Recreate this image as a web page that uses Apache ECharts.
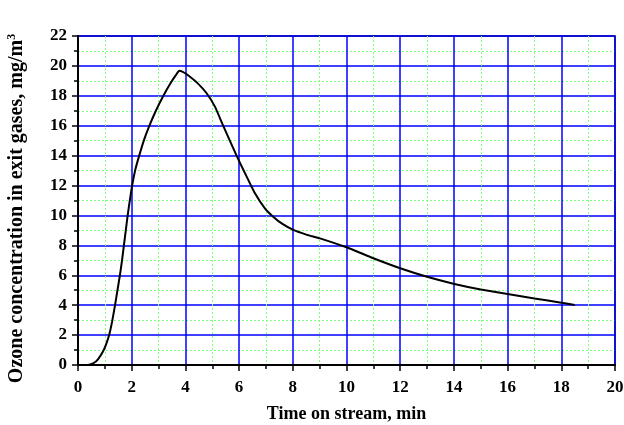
<!DOCTYPE html>
<html>
<head>
<meta charset="utf-8">
<script src="https://cdn.jsdelivr.net/npm/echarts@6/dist/echarts.min.js"></script>
<style>html,body{margin:0;padding:0;background:#fff}#c{width:624px;height:425px}</style>
</head>
<body>
<div id="c"></div>
<script>
const timeMin = [0, 0.3, 0.45, 0.6, 0.75, 0.93, 1.05, 1.16, 1.27, 1.38, 1.47, 1.56, 1.64, 1.71, 1.78, 1.85, 1.93, 2.02, 2.14, 2.28, 2.46, 2.66, 2.9, 3.18, 3.45, 3.65, 3.77, 3.9, 4.05, 4.45, 4.79, 5.10, 5.41, 5.91, 6.22, 6.59, 6.96, 7.27, 7.6, 8.02, 8.5, 9.01, 10.0, 11.0, 12.0, 13.0, 14.02, 15.0, 16.0, 17.0, 18.0, 18.5];
const ozone = [0, 0, 0.04, 0.15, 0.4, 0.9, 1.4, 2, 2.9, 4, 5, 6, 7, 8, 9, 10, 11, 12.04, 13.1, 14, 15.05, 16, 17, 18, 18.85, 19.4, 19.67, 19.6, 19.44, 18.85, 18.17, 17.28, 15.99, 13.98, 12.82, 11.48, 10.48, 9.92, 9.45, 9.03, 8.72, 8.47, 7.87, 7.14, 6.47, 5.9, 5.42, 5.05, 4.75, 4.45, 4.17, 4.01];
const xTicks = {min: 0, max: 20, interval: 2};
const yTicks = {min: 0, max: 22, interval: 2};
const xTitle = 'Time on stream, min';
const yTitle = 'Ozone concentration in exit gases, mg/m{sup|3}';

const font = '"Liberation Serif", "Times New Roman", serif';
const chart = echarts.init(document.getElementById('c'), null, {renderer: 'canvas'});
chart.setOption({
  animation: false,
  grid: {left: 78, right: 9, top: 36, bottom: 60, containLabel: false, outerBoundsMode: 'none', show: true, borderColor: '#000', borderWidth: 1.5, backgroundColor: 'transparent'},
  xAxis: {
    type: 'value', min: xTicks.min, max: xTicks.max, interval: xTicks.interval,
    name: xTitle, nameLocation: 'middle', nameGap: 40,
    nameTextStyle: {fontFamily: font, fontWeight: 'bold', fontSize: 18, color: '#000'},
    axisLine: {lineStyle: {color: '#000', width: 2}},
    axisTick: {show: true, inside: false, length: 6, lineStyle: {color: '#000', width: 1.5}},
    minorTick: {show: true, splitNumber: 2, length: 4, lineStyle: {color: '#000', width: 1.5}},
    axisLabel: {fontFamily: font, fontWeight: 'bold', fontSize: 17, color: '#000', margin: 14},
    splitLine: {show: true, lineStyle: {color: '#0000ff', width: 1.5}},
    minorSplitLine: {show: true, lineStyle: {color: '#7dff7d', width: 1, type: [2, 2]}}
  },
  yAxis: {
    type: 'value', min: yTicks.min, max: yTicks.max, interval: yTicks.interval,
    name: yTitle, nameLocation: 'middle', nameGap: 50, nameRotate: 90,
    nameTextStyle: {fontFamily: font, fontWeight: 'bold', fontSize: 20, color: '#000', padding: [0, 16, 0, 0],
      rich: {sup: {fontFamily: font, fontWeight: 'bold', fontSize: 12, color: '#000', verticalAlign: 'top', padding: [0, 0, 10, 0]}}},
    axisLine: {lineStyle: {color: '#000', width: 2}},
    axisTick: {show: true, inside: false, length: 6, lineStyle: {color: '#000', width: 1.5}},
    minorTick: {show: true, splitNumber: 2, length: 4, lineStyle: {color: '#000', width: 1.5}},
    axisLabel: {fontFamily: font, fontWeight: 'bold', fontSize: 17, color: '#000', margin: 11},
    splitLine: {show: true, lineStyle: {color: '#0000ff', width: 1.5}},
    minorSplitLine: {show: true, lineStyle: {color: '#7dff7d', width: 1, type: [2, 2]}}
  },
  series: [{
    type: 'line', smooth: 0.15, showSymbol: false,
    data: timeMin.map((t, i) => [t, ozone[i]]),
    lineStyle: {color: '#000', width: 2}
  }]
});
</script>
</body>
</html>
